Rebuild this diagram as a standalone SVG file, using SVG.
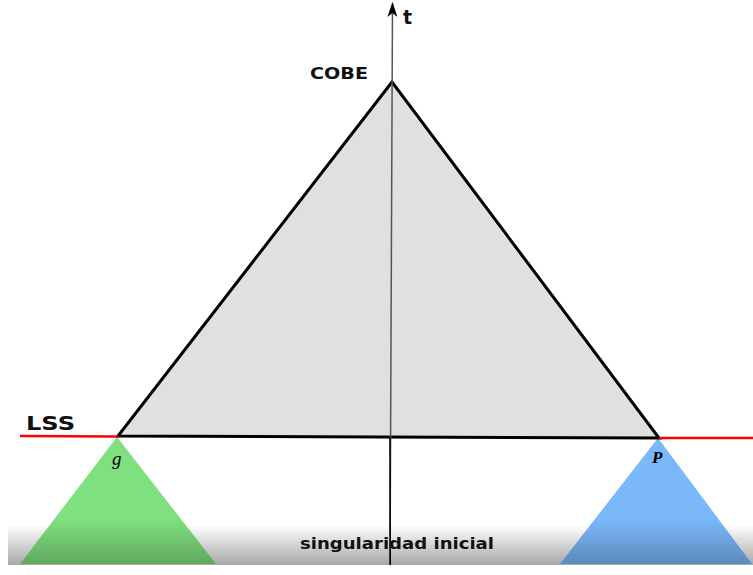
<svg xmlns="http://www.w3.org/2000/svg" width="753" height="575" viewBox="0 0 753 575">
<defs>
<linearGradient id="floor" x1="0" y1="0" x2="0" y2="1">
<stop offset="0" stop-color="#ffffff"/>
<stop offset="1" stop-color="#a8a8a8"/>
</linearGradient>
<linearGradient id="gfade" x1="0" y1="0" x2="0" y2="1">
<stop offset="0" stop-color="#000" stop-opacity="0"/>
<stop offset="0.65" stop-color="#000" stop-opacity="0"/>
<stop offset="1" stop-color="#000" stop-opacity="0.25"/>
</linearGradient>
<marker id="arr" viewBox="0 0 15 10" refX="14" refY="5" markerWidth="15" markerHeight="10" orient="auto" markerUnits="userSpaceOnUse">
<path d="M0,0 L15,5 L0,10 L4,5 Z" fill="#000"/>
</marker>
<style>
.lbl{font-family:"DejaVu Sans","Liberation Sans",sans-serif;font-weight:bold;fill:#111}
</style>
</defs>
<rect width="753" height="575" fill="#fff"/>
<rect x="8" y="525" width="745" height="40" fill="url(#floor)"/>
<g id="green-cone">
<polygon points="117,437 20,564 216,564" fill="#7ee07e"/>
<polygon points="117,437 20,564 216,564" fill="url(#gfade)"/>
</g>
<g id="blue-cone">
<polygon points="658,438 560,564 752,564" fill="#7ab8fa"/>
<polygon points="658,438 560,564 752,564" fill="url(#gfade)"/>
</g>
<g id="main-triangle">
<polygon points="392,82 118,436 659,438" fill="#e0e0e0" stroke="#000" stroke-width="3" stroke-linejoin="miter"/>
</g>
<g id="connectors">
<line x1="20" y1="436" x2="118" y2="436.5" stroke="#ff0000" stroke-width="2.5"/>
<line x1="659" y1="438" x2="753" y2="438" stroke="#ff0000" stroke-width="2.5"/>
<line x1="390" y1="565" x2="392.5" y2="3" stroke="#555" stroke-width="1.5" marker-end="url(#arr)"/>
<line x1="390" y1="438" x2="390.2" y2="565" stroke="#000" stroke-width="1.5"/>
</g>
<text class="lbl" x="403" y="24" font-size="19">t</text>
<text class="lbl" x="310" y="79" font-size="15" textLength="58" lengthAdjust="spacingAndGlyphs">COBE</text>
<text class="lbl" x="26" y="430" font-size="19" textLength="49" lengthAdjust="spacingAndGlyphs">LSS</text>
<text x="112" y="465" font-family="Liberation Serif,serif" font-style="italic" font-size="19" fill="#000">g</text>
<text x="652" y="463" font-family="Liberation Serif,serif" font-style="italic" font-weight="bold" font-size="17" fill="#000">P</text>
<text class="lbl" x="300" y="549" font-size="15" textLength="194" lengthAdjust="spacingAndGlyphs">singularidad inicial</text>
</svg>
